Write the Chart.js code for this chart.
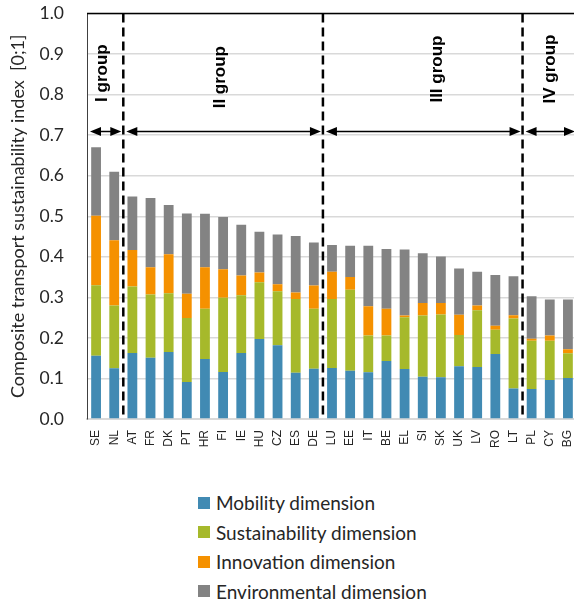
<!DOCTYPE html>
<html lang="en">
<head>
<meta charset="UTF-8" />
<title>Composite transport sustainability index</title>
<style>
  html, body { margin: 0; padding: 0; overflow: hidden; background: #fff; }
  #wrap { position: relative; width: 574px; height: 603px; overflow: hidden; }
  #myChart { position: absolute; left: 0; top: 0; }
  #legend { position: absolute; left: 198px; top: 488px; font-family: Lato, sans-serif; font-size: 19px; color: #262626; }
  #legend .item { height: 29.5px; display: flex; align-items: center; }
  #legend .box { width: 12px; height: 12px; margin-right: 6px; display: inline-block; }
</style>
</head>
<body>
<div id="wrap">
  <canvas id="myChart" width="578" height="460"></canvas>
  <div id="legend"></div>
</div>
<script src="https://cdn.jsdelivr.net/npm/chart.js"></script>
<script>
  const countries = ['SE','NL','AT','FR','DK','PT','HR','FI','IE','HU','CZ','ES','DE',
    'LU','EE','IT','BE','EL','SI','SK','UK','LV','RO','LT','PL','CY','BG'];
  const mobility = [0.156,0.125,0.163,0.151,0.165,0.091,0.148,0.116,0.163,0.197,0.182,0.114,0.124,
    0.126,0.119,0.115,0.143,0.123,0.104,0.103,0.130,0.128,0.160,0.075,0.074,0.096,0.101];
  const sustainability = [0.174,0.155,0.164,0.156,0.145,0.158,0.124,0.183,0.142,0.140,0.133,0.182,0.148,
    0.170,0.200,0.091,0.063,0.128,0.151,0.155,0.077,0.140,0.060,0.173,0.119,0.097,0.061];
  const innovation = [0.171,0.161,0.090,0.067,0.096,0.060,0.102,0.070,0.049,0.024,0.017,0.016,0.057,
    0.067,0.031,0.072,0.066,0.004,0.031,0.028,0.050,0.012,0.010,0.008,0.005,0.013,0.010];
  const environmental = [0.169,0.169,0.132,0.171,0.122,0.198,0.132,0.129,0.125,0.101,0.123,0.139,0.106,
    0.066,0.077,0.149,0.147,0.163,0.123,0.115,0.114,0.083,0.125,0.096,0.105,0.089,0.123];

  const seriesNames = ['Mobility dimension','Sustainability dimension','Innovation dimension','Environmental dimension'];
  const seriesColors = ['#418ab3','#a6b92b','#f59100','#838383'];

  const groupNames = ['I group','II group','III group','IV group'];
  const groupFirst = [0, 2, 13, 24];
  const groupLast = [1, 12, 23, 26];

  const font = 'Lato, sans-serif';

  // dashed separators, arrows and rotated group names
  const groupOverlay = {
    id: 'groupOverlay',
    afterDatasetsDraw(chart, args, opts) {
      const { ctx, chartArea: a, scales: { x, y } } = chart;
      const boundary = i => (x.getPixelForValue(i - 1) + x.getPixelForValue(i)) / 2;
      ctx.save();

      ctx.strokeStyle = '#000';
      ctx.lineWidth = 1.5;
      ctx.beginPath();
      ctx.moveTo(a.left, a.top);
      ctx.lineTo(a.right + 5, a.top);
      ctx.stroke();

      ctx.setLineDash([9, 5]);
      ctx.lineWidth = 2.5;
      for (let g = 1; g < groupFirst.length; g++) {
        const bx = boundary(groupFirst[g]);
        ctx.beginPath();
        ctx.moveTo(bx, a.top);
        ctx.lineTo(bx, a.bottom);
        ctx.stroke();
      }
      ctx.setLineDash([]);

      const ay = y.getPixelForValue(opts.arrowAt);
      ctx.lineWidth = 1.5;
      ctx.fillStyle = '#000';
      const head = (tx, dir) => {
        ctx.beginPath();
        ctx.moveTo(tx, ay);
        ctx.lineTo(tx + dir * 11, ay - 4.5);
        ctx.lineTo(tx + dir * 11, ay + 4.5);
        ctx.closePath();
        ctx.fill();
      };
      for (let g = 0; g < groupFirst.length; g++) {
        const l = (g === 0 ? a.left : boundary(groupFirst[g])) + 3;
        const r = (g === groupFirst.length - 1 ? a.right : boundary(groupLast[g] + 1)) - 2;
        ctx.beginPath();
        ctx.moveTo(l + 5, ay);
        ctx.lineTo(r - 5, ay);
        ctx.stroke();
        head(l, 1);
        head(r, -1);
      }

      ctx.font = 'bold 17px "Liberation Sans", Arial, sans-serif';
      ctx.textAlign = 'center';
      ctx.textBaseline = 'middle';
      groupNames.forEach((name, g) => {
        ctx.save();
        ctx.translate(x.getPixelForValue(opts.labelX[g]), y.getPixelForValue(opts.labelY[g]));
        ctx.rotate(-Math.PI / 2);
        ctx.fillText(name, 0, 0);
        ctx.restore();
      });
      ctx.restore();
    }
  };

  const datasets = [mobility, sustainability, innovation, environmental].map((vals, i) => ({
    label: seriesNames[i],
    data: vals,
    backgroundColor: seriesColors[i],
    borderWidth: 0,
    categoryPercentage: 1,
    barPercentage: 0.54
  }));

  new Chart(document.getElementById('myChart'), {
    type: 'bar',
    data: { labels: countries, datasets },
    plugins: [groupOverlay],
    options: {
      responsive: false,
      animation: false,
      layout: { padding: { top: 13.5, right: 1, left: 0, bottom: 0 } },
      plugins: {
        legend: { display: false },
        tooltip: { enabled: false },
        groupOverlay: {
          arrowAt: 0.709,
          labelX: [0.37, 6.82, 18.79, 25.05],
          labelY: [0.853, 0.843, 0.863, 0.863]
        }
      },
      scales: {
        x: {
          stacked: true,
          grid: { display: false },
          border: { color: '#d9d9d9', width: 2 },
          ticks: {
            maxRotation: 90, minRotation: 90, padding: 3, autoSkip: false,
            color: '#262626',
            font: { family: '"Liberation Sans", Arial, sans-serif', size: 12 }
          },
          afterFit(scale) {
            scale.height = 41;
            scale.paddingLeft = 0;
            scale.paddingRight = 0;
          }
        },
        y: {
          stacked: true,
          min: 0,
          max: 1,
          ticks: {
            stepSize: 0.1, padding: 23, color: '#262626',
            font: { family: font, size: 17.5 },
            callback: v => v.toFixed(1)
          },
          grid: { color: '#d9d9d9', lineWidth: 1.5, drawTicks: false },
          border: { color: '#404040', width: 1 },
          title: {
            display: true,
            text: 'Composite transport sustainability index  [0;1]',
            color: '#262626',
            font: { family: font, size: 18 },
            padding: { top: 7, bottom: 0 }
          },
          afterFit(scale) {
            scale.width = 87;
            scale.paddingTop = 0;
            scale.paddingBottom = 0;
          }
        }
      }
    }
  });

  const legend = document.getElementById('legend');
  seriesNames.forEach((name, i) => {
    const row = document.createElement('div');
    row.className = 'item';
    const box = document.createElement('span');
    box.className = 'box';
    box.style.background = seriesColors[i];
    row.appendChild(box);
    row.appendChild(document.createTextNode(name));
    legend.appendChild(row);
  });
</script>
</body>
</html>
